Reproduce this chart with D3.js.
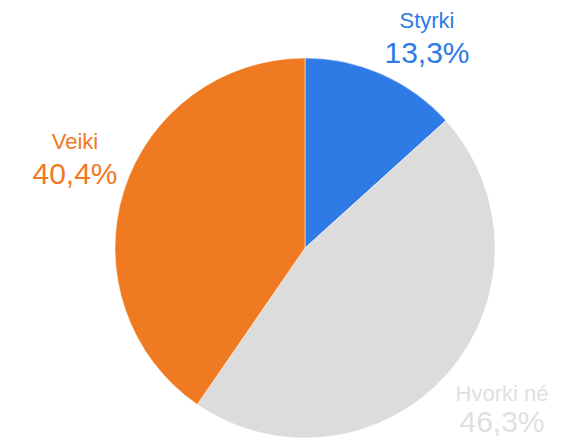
<!DOCTYPE html>
<html>
<head>
<meta charset="utf-8">
<script src="https://cdn.jsdelivr.net/npm/d3@7"></script>
<style>
  html, body { margin: 0; padding: 0; background: #fff; }
  svg { display: block; font-family: Arial, "Liberation Sans", sans-serif; }
</style>
</head>
<body>
<svg id="chart" width="584" height="438"></svg>
<script>
// data, clockwise from 12 o'clock
const categories = ['Styrki', 'Hvorki né', 'Veiki'];
const values = [13.3, 46.3, 40.4];
const valueLabels = ['13,3%', '46,3%', '40,4%'];
const colors = ['#2f7be6', '#dcdcdc', '#f07a22'];
const textColors = ['#2f7be6', '#e0e0e0', '#f07a22'];
// label placement: [x, name baseline, value baseline]
const labelPos = [[427, 28, 63], [502, 401, 432], [75, 149, 184]];

const svg = d3.select('#chart');
const cx = 305, cy = 248, r = 190;

const pie = d3.pie().sort(null).value(d => d.value);
const arc = d3.arc().innerRadius(0).outerRadius(r);

const data = categories.map((c, i) => ({ name: c, value: values[i], i }));

const g = svg.append('g').attr('transform', `translate(${cx},${cy})`);

g.selectAll('path')
  .data(pie(data))
  .enter().append('path')
  .attr('d', arc)
  .attr('fill', d => colors[d.data.i])
  .attr('stroke', '#fff')
  .attr('stroke-width', 0.5);

const labels = svg.selectAll('g.label')
  .data(data)
  .enter().append('g')
  .attr('class', 'label')
  .attr('transform', d => `translate(${labelPos[d.i][0]},0)`);

labels.append('text')
  .attr('text-anchor', 'middle')
  .attr('y', d => labelPos[d.i][1])
  .attr('font-size', 22)
  .attr('fill', d => textColors[d.i])
  .text(d => d.name);

labels.append('text')
  .attr('text-anchor', 'middle')
  .attr('y', d => labelPos[d.i][2])
  .attr('font-size', 30)
  .attr('fill', d => textColors[d.i])
  .text(d => valueLabels[d.i]);
</script>
</body>
</html>
